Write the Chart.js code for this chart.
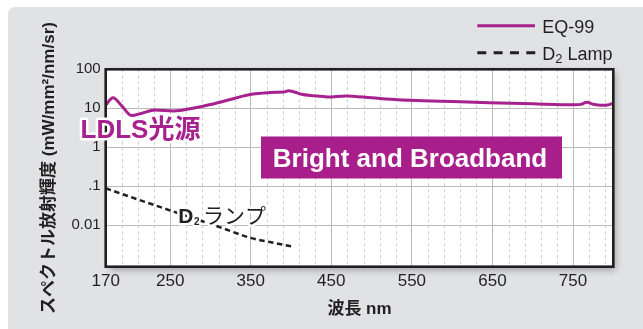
<!DOCTYPE html>
<html>
<head>
<meta charset="utf-8">
<style>
  html, body { margin: 0; padding: 0; background: #ffffff; overflow: hidden; }
  #wrap { position: relative; width: 643px; height: 329px; }
</style>
<script src="https://cdn.jsdelivr.net/npm/chart.js@4.4.1/dist/chart.umd.min.js"></script>
</head>
<body>
<div id="wrap"><canvas id="chart" width="643" height="329"></canvas></div>
<script>
// Spectral radiance of the EQ-99 laser-driven light source (mW/mm²/nm/sr)
const eqWavelengths = [170, 179, 190, 202, 215, 231, 254, 281, 300, 322, 340, 351, 365, 380, 391, 397, 405, 413, 428, 445, 468, 500, 533, 563, 600, 646, 700, 752, 760, 767, 775, 785, 793, 800];
const eqRadiance    = [12.2, 18.7, 11.5, 6.5, 7.5, 9.0, 8.5, 10.3, 12.5, 16.3, 20.5, 22.9, 24.5, 25.7, 26.0, 28.2, 25.8, 22.9, 21.0, 19.6, 20.8, 18.6, 16.6, 15.7, 14.9, 13.9, 13.0, 12.3, 12.6, 14.2, 12.7, 11.9, 12.2, 13.5];

// Spectral radiance of a deuterium lamp
const d2Wavelengths = [170, 210, 252, 310, 351, 375, 400];
const d2Radiance    = [0.089, 0.046, 0.0233, 0.0092, 0.0047, 0.0037, 0.0029];

// Axis ticks
const xLabelTicks = [170, 250, 350, 450, 550, 650, 750];
const xMinorGrid  = [190, 210, 230, 270, 290, 310, 330, 370, 390, 410, 430, 470, 490, 510, 530, 570, 590, 610, 630, 670, 690, 710, 730, 770, 790];
const yTicks      = [0.01, 0.1, 1, 10, 100];
const yTickLabels = ['0.01', '.1', '1', '10', '100'];

const seriesNames = ['EQ-99', 'D2 Lamp'];

const INK = '#231f20';
const MAGENTA = '#a7218f';
const LATIN = "'Liberation Sans', Arial, 'Noto Sans CJK JP', sans-serif";
const CJK = "'Noto Sans CJK JP', 'Liberation Sans', sans-serif";

Chart.defaults.font.family = LATIN;
Chart.defaults.color = INK;

// Grey panel behind everything, and the white plot area with a soft drop shadow
const panelPlugin = {
  id: 'panel',
  beforeDraw(chart) {
    const { ctx, chartArea: a, width, height } = chart;
    ctx.save();
    ctx.fillStyle = '#ffffff';
    ctx.fillRect(0, 0, width, height);
    ctx.fillStyle = '#e1e2e4';
    ctx.beginPath();
    ctx.roundRect(8, 7, width + 20, height + 20, 7);
    ctx.fill();
    ctx.shadowColor = 'rgba(0,0,0,0.30)';
    ctx.shadowBlur = 7;
    ctx.shadowOffsetX = 3;
    ctx.shadowOffsetY = 3;
    ctx.fillStyle = '#ffffff';
    ctx.fillRect(a.left, a.top, a.right - a.left, a.bottom - a.top);
    ctx.restore();
  }
};

// Dashed minor grid every 20 nm
const minorGridPlugin = {
  id: 'minorGrid',
  beforeDatasetsDraw(chart) {
    const { ctx, chartArea: a, scales: { x } } = chart;
    ctx.save();
    ctx.strokeStyle = '#cdcdcd';
    ctx.lineWidth = 1;
    ctx.setLineDash([3, 3]);
    xMinorGrid.forEach(v => {
      const px = Math.round(x.getPixelForValue(v)) + 0.5;
      ctx.beginPath();
      ctx.moveTo(px, a.top);
      ctx.lineTo(px, a.bottom);
      ctx.stroke();
    });
    ctx.restore();
  }
};

function haloText(ctx, text, x, y, font, color, halo) {
  ctx.font = font;
  if (halo) {
    ctx.lineJoin = 'round';
    ctx.lineWidth = halo;
    ctx.strokeStyle = '#ffffff';
    ctx.strokeText(text, x, y);
  }
  ctx.fillStyle = color;
  ctx.fillText(text, x, y);
  return ctx.measureText(text).width;
}

// Frame, callouts and legend
const overlayPlugin = {
  id: 'overlay',
  afterDraw(chart) {
    const { ctx, chartArea: a } = chart;
    ctx.save();

    // plot frame
    ctx.strokeStyle = INK;
    ctx.lineWidth = 2.6;
    ctx.strokeRect(a.left, a.top, a.right - a.left, a.bottom - a.top);

    ctx.textBaseline = 'alphabetic';
    ctx.textAlign = 'left';

    // "Bright and Broadband" banner
    ctx.fillStyle = '#a81f8b';
    ctx.fillRect(261, 136.5, 301, 42);
    ctx.textAlign = 'center';
    ctx.font = 'bold 26px ' + LATIN;
    ctx.fillStyle = '#ffffff';
    ctx.fillText('Bright and Broadband', 410, 166.8);
    ctx.textAlign = 'left';

    // LDLS callout
    haloText(ctx, 'LDLS光源', 80.5, 137.7, 'bold 26px ' + LATIN, MAGENTA, 5);

    // D2 lamp callout
    let cx = 178.3;
    const by = 223.3;
    cx += haloText(ctx, 'D', cx, by, 'bold 21px ' + LATIN, INK, 5);
    cx += haloText(ctx, '2', cx + 0.5, by + 2, 'bold 10px ' + LATIN, INK, 4) + 4;
    haloText(ctx, 'ランプ', cx, by, '21px ' + CJK, INK, 5);

    // legend
    ctx.lineCap = 'butt';
    ctx.strokeStyle = MAGENTA;
    ctx.lineWidth = 3;
    ctx.beginPath();
    ctx.moveTo(477.3, 25.7);
    ctx.lineTo(535, 25.7);
    ctx.stroke();
    ctx.strokeStyle = INK;
    ctx.setLineDash([9, 7.33]);
    ctx.beginPath();
    ctx.moveTo(477.3, 52.7);
    ctx.lineTo(535.5, 52.7);
    ctx.stroke();
    ctx.setLineDash([]);

    ctx.fillStyle = INK;
    ctx.font = '18px ' + LATIN;
    ctx.fillText(seriesNames[0], 542.3, 33.3);
    let lx = 542.3;
    ctx.fillText('D', lx, 59.5);
    lx += ctx.measureText('D').width;
    ctx.font = '13px ' + LATIN;
    ctx.fillText('2', lx, 63);
    lx += ctx.measureText('2').width;
    ctx.font = '18px ' + LATIN;
    ctx.fillText(' Lamp', lx, 59.5);

    ctx.restore();
  }
};

new Chart(document.getElementById('chart'), {
  type: 'line',
  data: {
    datasets: [
      {
        label: seriesNames[0],
        data: eqWavelengths.map((x, i) => ({ x, y: eqRadiance[i] })),
        borderColor: MAGENTA,
        borderWidth: 3,
        pointRadius: 0,
        cubicInterpolationMode: 'monotone',
        fill: false
      },
      {
        label: seriesNames[1],
        data: d2Wavelengths.map((x, i) => ({ x, y: d2Radiance[i] })),
        borderColor: INK,
        borderWidth: 2.5,
        borderDash: [5.5, 3.5],
        pointRadius: 0,
        cubicInterpolationMode: 'monotone',
        fill: false
      }
    ]
  },
  options: {
    responsive: false,
    animation: false,
    devicePixelRatio: 1,
    layout: { padding: { top: 69.3, right: 29.7, bottom: 0, left: 0 } },
    plugins: {
      legend: { display: false },
      tooltip: { enabled: false }
    },
    scales: {
      x: {
        type: 'linear',
        min: 170,
        max: 800,
        afterBuildTicks: s => { s.ticks = xLabelTicks.map(v => ({ value: v })); },
        afterFit: s => { s.height = 62.3; },
        grid: { color: '#b9b9b9', lineWidth: 1, drawTicks: false },
        border: { display: false },
        ticks: {
          autoSkip: false,
          maxRotation: 0,
          padding: 4.5,
          color: INK,
          font: { size: 17 },
          callback: v => String(v)
        },
        title: {
          display: true,
          text: '波長 nm',
          color: INK,
          font: { size: 17, weight: 'bold' },
          padding: { top: 0, bottom: 9.4 }
        }
      },
      y: {
        type: 'logarithmic',
        min: 0.00087,
        max: 100,
        afterBuildTicks: s => { s.ticks = yTicks.map(v => ({ value: v })); },
        afterFit: s => { s.width = 105.7; },
        grid: { color: '#b9b9b9', lineWidth: 1, drawTicks: false },
        border: { display: false },
        ticks: {
          padding: 5,
          color: INK,
          font: { size: 15 },
          callback: (v, i) => yTickLabels[i]
        },
        title: {
          display: true,
          text: 'スペクトル放射輝度 (mW/mm²/nm/sr)',
          color: INK,
          font: { size: 17, weight: 'bold' },
          padding: { top: 39.4, bottom: 0 }
        }
      }
    }
  },
  plugins: [panelPlugin, minorGridPlugin, overlayPlugin]
});
</script>
</body>
</html>
